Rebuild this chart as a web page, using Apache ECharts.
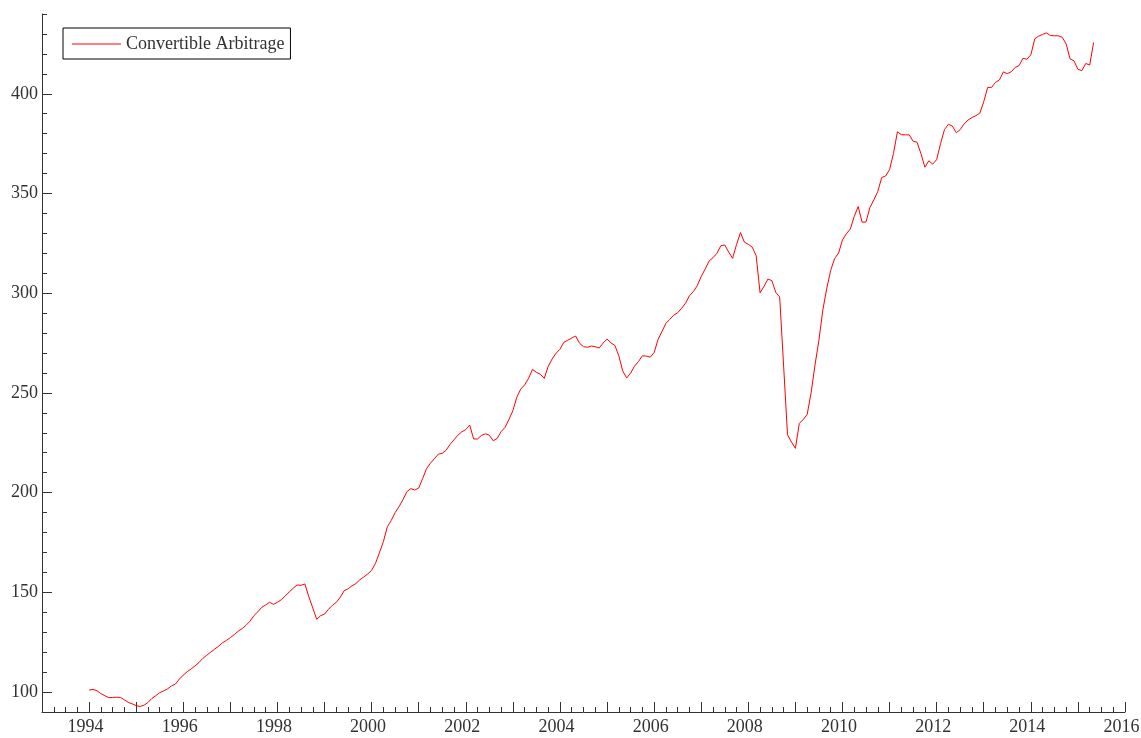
<!DOCTYPE html>
<html>
<head>
<meta charset="utf-8">
<script src="https://cdn.jsdelivr.net/npm/echarts@6/dist/echarts.min.js"></script>
<style>
  html, body { margin: 0; padding: 0; background: #fff; }
  #chart { width: 1141px; height: 738px; }
</style>
</head>
<body>
<div id="chart"></div>
<script>
// monthly index values, first point = Jan 1994
const startYear = 1994;
const seriesName = 'Convertible Arbitrage';
const values = [
  101, 101.3, 100.7, 99.2, 98.2, 97.2, 97.3, 97.4, 97.3, 96.1, 94.8, 94.1,
  93.2, 92.8, 93.4, 94.8, 96.8, 98.2, 99.7, 100.6, 101.6, 103.1, 104, 106.5,
  108.5, 110.2, 111.6, 113.1, 114.8, 116.9, 118.5, 120, 121.5, 123, 124.7, 125.9,
  127.3, 128.8, 130.5, 131.8, 133.5, 135.5, 138.3, 140.2, 142.5, 143.7, 145, 144,
  145, 146.3, 148.2, 150.2, 152, 153.7, 153.5, 154.2, 147.8, 142.2, 136.5, 138.3,
  139.1, 141.5, 143.5, 145, 147.5, 150.8, 151.8, 153.3, 154.4, 156.3, 157.7, 159.2,
  161, 164.6, 169.9, 175.4, 182.9, 186, 190, 193, 196.5, 200.5, 202, 201.3,
  202.3, 207, 212, 214.8, 217, 219.3, 219.7, 221.3, 224.2, 226.5, 228.8, 230.5,
  231.6, 233.9, 226.9, 226.9, 228.7, 229.5, 228.8, 226, 227.2, 230.6, 232.7, 236.7,
  241.1, 247.8, 251.9, 254, 257.3, 261.8, 260.3, 259.4, 257.3, 263.3, 267, 269.9,
  271.9, 275.4, 276.4, 277.5, 278.5, 274.9, 273.2, 272.9, 273.5, 273.2, 272.5, 275,
  277, 275.1, 273.8, 268.6, 261, 257.5, 259.9, 263.4, 265.7, 268.6, 268.5, 267.9,
  270.2, 276.8, 280.8, 284.9, 286.9, 289, 290.2, 292.4, 295, 298.7, 300.8, 303.8,
  308.4, 312.1, 316.1, 317.8, 320, 323.8, 324.2, 320.6, 317.5, 324.4, 330.4, 325.6,
  324.5, 323.1, 318.8, 300.2, 303.4, 307.1, 306.3, 300.4, 298.1, 263.5, 229, 225.4,
  222.2, 234.7, 236.7, 239.2, 250, 264, 276.5, 291.6, 302.5, 311.5, 317.4, 320.1,
  326.7, 329.8, 332.2, 338.5, 343.5, 335.6, 335.7, 343, 346.8, 351, 358, 358.8,
  362, 370.1, 380.9, 379.5, 379.4, 379.4, 376.2, 375.7, 370, 363.2, 366.4, 364.7,
  367, 375, 382.1, 384.7, 383.8, 380.5, 382, 384.9, 386.8, 388.1, 389, 390.3,
  396, 403.2, 403.2, 405.7, 406.9, 411, 410.1, 411, 413.2, 414.1, 417.8, 417.3,
  419.5, 427.5, 428.9, 429.8, 430.5, 429.2, 429.1, 429.1, 428.3, 425, 417.5, 416.5,
  412.3, 411.6, 415.2, 414.4, 425.7
];
const xTickLabels = [1994, 1996, 1998, 2000, 2002, 2004, 2006, 2008, 2010, 2012, 2014, 2016];
const yTickLabels = [100, 150, 200, 250, 300, 350, 400];
const yMinorTicks = [90, 100, 110, 120, 130, 140, 150, 160, 170, 180, 190, 200, 210, 220, 230, 240, 250,
  260, 270, 280, 290, 300, 310, 320, 330, 340, 350, 360, 370, 380, 390, 400, 410, 420, 430, 440];

const font = 'Liberation Serif';
const ink = '#333';

const chart = echarts.init(document.getElementById('chart'));
const option = {
  animation: false,
  backgroundColor: '#fff',
  grid: { left: 42, right: 16, top: 14, bottom: 26, containLabel: false, outerBoundsMode: 'none' },
  legend: {
    left: 63, top: 28,
    orient: 'vertical',
    data: [{ name: seriesName, icon: 'rect' }],
    borderColor: '#000', borderWidth: 1,
    padding: [6, 6, 5, 9],
    itemWidth: 49, itemHeight: 1,
    itemStyle: { color: '#ff0000', borderWidth: 0 },
    textStyle: { fontFamily: font, fontSize: 18, color: ink, lineHeight: 20 }
  },
  xAxis: {
    type: 'value', min: 1993, max: 2016, interval: 1,
    axisLine: { lineStyle: { color: ink, width: 1 } },
    axisTick: { inside: true, length: 10, lineStyle: { color: ink } },
    minorTick: { show: true, splitNumber: 4, length: 5, lineStyle: { color: ink } },
    splitLine: { show: false },
    axisLabel: {
      margin: 6, fontFamily: font, fontSize: 18, color: ink,
      padding: [0, 7, 0, 0],
      formatter: v => xTickLabels.includes(v) ? String(v) : ''
    }
  },
  yAxis: [
    {
      type: 'value', min: 90, max: 440, interval: 10,
      axisLine: { show: true, lineStyle: { color: ink, width: 1 } },
      axisTick: { show: true, inside: true, length: 5, lineStyle: { color: ink } },
      splitLine: { show: false },
      axisLabel: {
        margin: 4, fontFamily: font, fontSize: 18, color: ink,
        formatter: v => yTickLabels.includes(v) ? String(v) : ''
      }
    },
    {
      // only carries the longer ticks at the labelled values
      type: 'category', position: 'left', boundaryGap: false,
      data: yMinorTicks.map(String),
      axisLine: { show: false },
      axisTick: {
        show: true, inside: true, length: 10, lineStyle: { color: ink },
        interval: (i, v) => yTickLabels.includes(Number(v))
      },
      axisLabel: { show: false },
      splitLine: { show: false }
    }
  ],
  series: [{
    name: seriesName,
    type: 'line',
    yAxisIndex: 0,
    symbol: 'none',
    data: values.map((v, i) => [startYear + i / 12, v]),
    lineStyle: { color: '#ff0000', width: 1 },
    itemStyle: { color: '#ff0000' }
  }]
};
chart.setOption(option);
</script>
</body>
</html>
